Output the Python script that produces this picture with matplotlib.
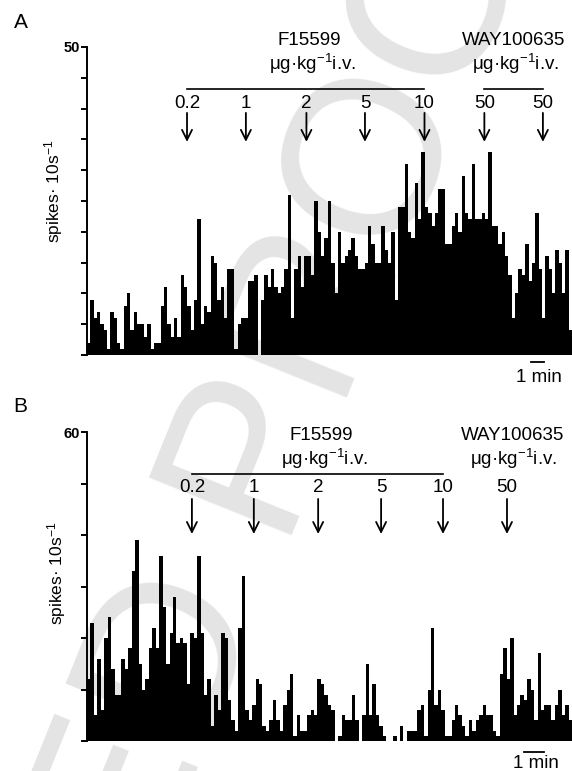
import numpy as np
import matplotlib
matplotlib.use("Agg")
import matplotlib.pyplot as plt

plt.rcParams['font.family'] = ['Liberation Sans', 'DejaVu Sans']
plt.rcParams['mathtext.fontset'] = 'custom'
plt.rcParams['mathtext.rm'] = 'Liberation Sans'
plt.rcParams['mathtext.it'] = 'Liberation Sans'

# spike counts per bin, panel A
counts_a = [2, 9, 6, 7, 5, 4, 1, 7, 6, 2, 1, 8, 10, 4, 7, 5, 5, 3, 5, 1, 2, 2, 8, 11,
            5, 3, 6, 3, 13, 11, 8, 4, 9, 22, 5, 8, 7, 16, 15, 9, 11, 6, 14, 14, 1, 5, 6, 6,
            12, 12, 13, 0, 9, 13, 11, 14, 11, 10, 11, 14, 26, 6, 14, 16, 11, 16, 16, 13,
            25, 20, 16, 19, 25, 15, 10, 20, 15, 16, 17, 19, 16, 14, 14, 15, 21, 18, 15, 15,
            21, 17, 15, 20, 9, 24, 24,
            31, 20, 19, 28, 22, 33, 24, 23, 21, 23, 27, 27, 18, 18, 21, 23, 20, 29, 23, 22,
            31, 22, 22, 23, 22, 33, 21, 21, 18, 20, 16, 13, 6, 10, 14, 13, 18, 12, 15, 23,
            14, 6, 16, 14, 10, 17, 15, 10, 17, 4]

# spike counts per bin, panel B
counts_b = [12, 23, 5, 16, 6, 20, 24, 14, 9, 9, 16, 14, 18, 33, 39, 15, 10, 12, 18, 22,
            18, 36, 26, 15, 21, 28, 19, 20, 19, 11, 21, 20, 36, 21, 9, 12, 3, 9, 6, 21,
            20, 8, 4, 2, 22, 32, 6, 4, 7, 12, 11, 3, 2, 4, 8, 4, 2, 7, 10, 13,
            1, 5, 2, 2, 5, 6, 5,
            12, 11, 9, 7, 6, 0, 1, 5, 4, 4, 9, 4, 0, 5, 15, 5, 11, 5, 3, 1,
            0, 0, 1, 0, 3, 0, 2, 2, 2, 6, 7, 1, 10, 22, 7, 10, 6, 1, 1, 4,
            7, 5, 3, 1, 4, 2, 4, 5, 7, 5, 5, 2, 1, 13, 18, 12, 20, 5, 7, 9,
            8, 12, 10, 4, 17, 6, 7, 7, 4, 7, 10, 5, 7, 4]

# injection times (in bins) and dose labels
doses_a = ['0.2', '1', '2', '5', '10']
times_a = [29.9, 47.5, 65.6, 83.1, 100.9]
way_doses_a = ['50', '50']
way_times_a = [118.8, 136.3]

doses_b = ['0.2', '1', '2', '5', '10']
times_b = [30.5, 48.5, 67.2, 85.5, 103.5]
way_doses_b = ['50']
way_times_b = [122.1]

ymax_a, ymax_b = 50, 60

fig = plt.figure(figsize=(5.72, 7.71), dpi=100)

# watermark
fig.text(0.079, -0.289, 'UNCORRECTED PROOF', rotation=68, fontsize=160,
         color='#e4e4e4', ha='center', va='center', zorder=-5)


def panel(rect, counts, ymax, step, doses, times, way_doses, way_times,
          ys, way_line, scale):
    ax = fig.add_axes(rect)
    ax.patch.set_facecolor('none')
    n = len(counts)
    ax.bar(np.arange(n), counts, width=1.0, align='edge', color='black', linewidth=0)
    ax.set_xlim(0, n)
    ax.set_ylim(0, ymax)
    for s in ['top', 'right', 'bottom']:
        ax.spines[s].set_visible(False)
    ax.spines['left'].set_linewidth(1.4)
    ax.set_xticks([])
    ax.set_yticks(np.arange(0, ymax + 1, step))
    ax.set_yticklabels([''] * (len(ax.get_yticks()) - 1) + [str(ymax)],
                       fontsize=10.5, fontweight='bold')
    ax.tick_params(axis='y', length=4, width=1.4, pad=1)

    y_title, y_unit, y_line, y_num, y_a0, y_a1 = ys
    fs = 13.5
    ax.text((times[0] + times[-1]) / 2 + 1, y_title, 'F15599', ha='center', va='center', fontsize=fs)
    ax.text((times[0] + times[-1]) / 2 + 2, y_unit, 'μg·kg$^{-1}$i.v.', ha='center', va='center', fontsize=fs)
    ax.plot([times[0], times[-1]], [y_line, y_line], color='black', lw=1.2, clip_on=False)
    wx = np.mean(way_times) + (0 if len(way_times) > 1 else 1.5)
    ax.text(wx, y_title, 'WAY100635', ha='center', va='center', fontsize=fs)
    ax.text(wx + 0.5, y_unit, 'μg·kg$^{-1}$i.v.', ha='center', va='center', fontsize=fs)
    if way_line:
        ax.plot([way_times[0], way_times[-1]], [y_line, y_line], color='black', lw=1.2, clip_on=False)
    for lab, t in zip(doses + way_doses, times + way_times):
        ax.text(t, y_num, lab, ha='center', va='center', fontsize=fs)
        ax.annotate('', xy=(t, y_a1), xytext=(t, y_a0), annotation_clip=False,
                    arrowprops=dict(arrowstyle='->,head_length=0.6,head_width=0.3',
                                    lw=1.3, color='black', shrinkA=0, shrinkB=0,
                                    mutation_scale=12))

    bx0, bx1, by, ty = scale
    ax.plot([bx0, bx1], [by, by], color='black', lw=1.3, clip_on=False)
    ax.text((bx0 + bx1) / 2 + 0.5, ty, '1 min', ha='center', va='center', fontsize=fs)
    return ax


ax_a = panel([87 / 572, 1 - 355 / 771, 485 / 572, 308 / 771], counts_a, ymax_a, 5,
             doses_a, times_a, way_doses_a, way_times_a,
             (51.0, 47.3, 43.2, 40.9, 39.3, 34.6), True,
             (132.8, 136.5, -1.1, -3.6))
ax_a.text(-0.068, 0.53, 'spikes· 10s$^{-1}$', transform=ax_a.transAxes, rotation=90,
          ha='center', va='center', fontsize=12.5)

ax_b = panel([87 / 572, 1 - 741 / 771, 485 / 572, 309 / 771], counts_b, ymax_b, 10,
             doses_b, times_b, way_doses_b, way_times_b,
             (59.3, 54.8, 51.9, 49.3, 47.0, 40.2), False,
             (127.0, 133.0, -2.1, -4.3))
ax_b.text(-0.062, 0.544, 'spikes· 10s$^{-1}$', transform=ax_b.transAxes, rotation=90,
          ha='center', va='center', fontsize=12.5)

fig.text(20.5 / 572, 1 - 22 / 771, 'A', ha='center', va='center', fontsize=15)
fig.text(20.5 / 572, 1 - 407 / 771, 'B', ha='center', va='center', fontsize=15)

fig.savefig('out.png', dpi=100)
